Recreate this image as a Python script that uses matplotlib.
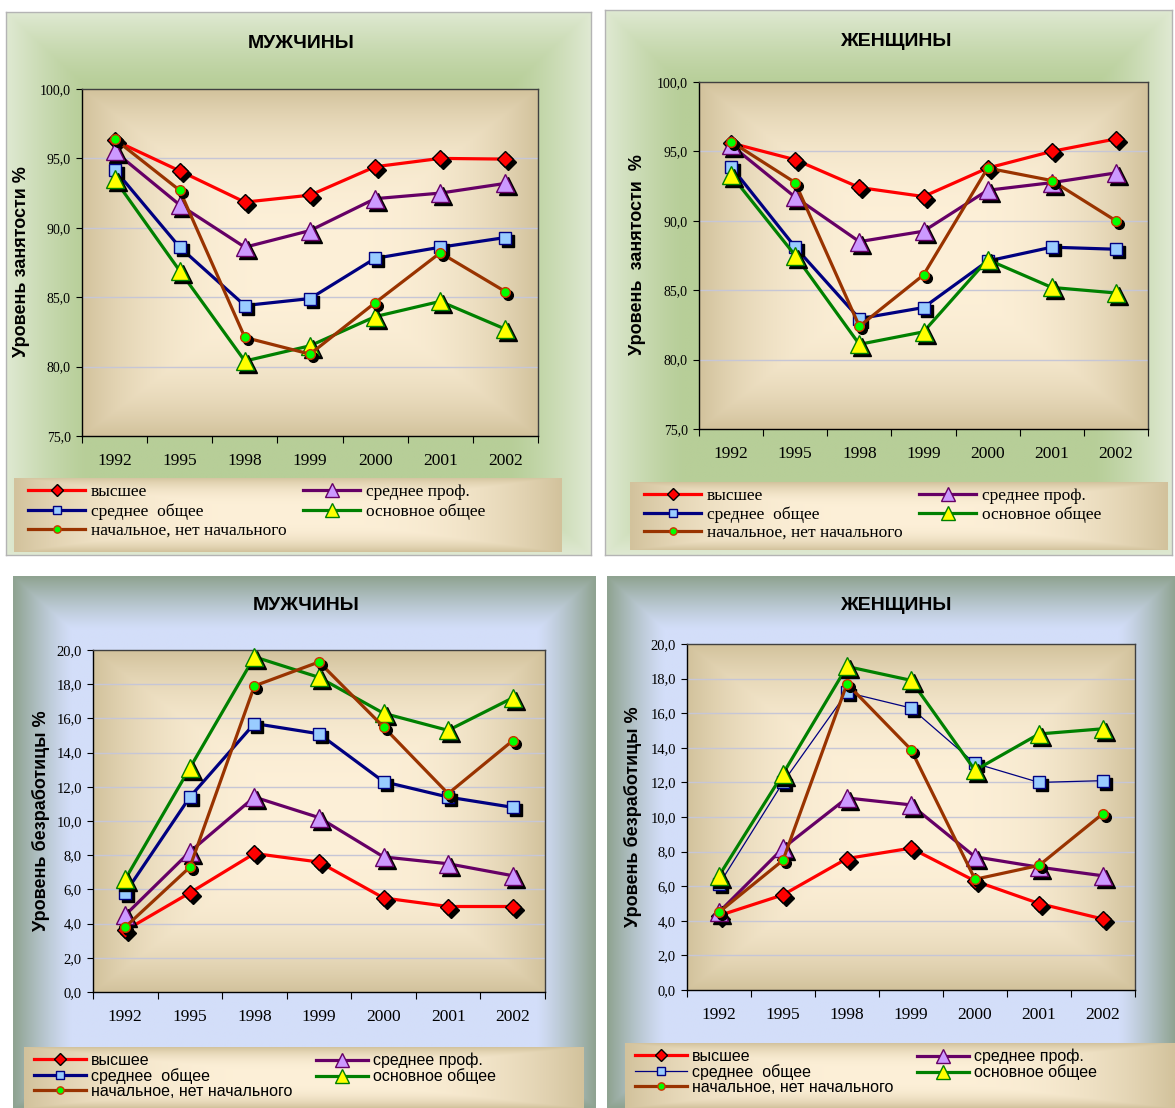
import numpy as np
import matplotlib.pyplot as plt
import matplotlib.colors as mcolors
from matplotlib import transforms
from matplotlib.lines import Line2D
from matplotlib.legend import Legend

W, H = 1175, 1108

years = ['1992', '1995', '1998', '1999', '2000', '2001', '2002']
names = ['высшее', 'среднее проф.', 'среднее  общее', 'основное общее',
         'начальное, нет начального']

# employment, men
m_emp_vys = [96.3, 94.1, 91.85, 92.35, 94.4, 95.0, 94.95]
m_emp_prof = [95.5, 91.65, 88.6, 89.8, 92.1, 92.5, 93.2]
m_emp_sro = [94.2, 88.6, 84.4, 84.9, 87.8, 88.6, 89.3]
m_emp_osn = [93.5, 86.9, 80.4, 81.5, 83.6, 84.7, 82.7]
m_emp_nach = [96.4, 92.7, 82.1, 80.9, 84.6, 88.2, 85.4]

# employment, women
w_emp_vys = [95.6, 94.4, 92.4, 91.75, 93.8, 95.0, 95.9]
w_emp_prof = [95.45, 91.7, 88.5, 89.25, 92.2, 92.75, 93.45]
w_emp_sro = [93.9, 88.1, 82.95, 83.75, 87.1, 88.1, 87.95]
w_emp_osn = [93.3, 87.5, 81.1, 82.0, 87.2, 85.2, 84.8]
w_emp_nach = [95.7, 92.75, 82.4, 86.1, 93.8, 92.9, 90.0]

# unemployment, men
m_un_vys = [3.6, 5.8, 8.1, 7.6, 5.5, 5.0, 5.0]
m_un_prof = [4.5, 8.2, 11.4, 10.2, 7.9, 7.5, 6.8]
m_un_sro = [5.8, 11.4, 15.7, 15.1, 12.3, 11.4, 10.8]
m_un_osn = [6.6, 13.1, 19.6, 18.4, 16.3, 15.3, 17.2]
m_un_nach = [3.8, 7.3, 17.9, 19.3, 15.5, 11.6, 14.7]

# unemployment, women
w_un_vys = [4.3, 5.5, 7.6, 8.2, 6.3, 5.0, 4.1]
w_un_prof = [4.5, 8.2, 11.1, 10.7, 7.7, 7.1, 6.6]
w_un_sro = [6.1, 12.0, 17.2, 16.3, 13.1, 12.0, 12.1]
w_un_osn = [6.6, 12.5, 18.7, 17.9, 12.7, 14.8, 15.1]
w_un_nach = [4.5, 7.5, 17.7, 13.9, 6.4, 7.2, 10.2]

# line colour, marker, size, face, edge
styles = [('#ff0000', 'D', 8.5, '#ff0000', '#000000'),
          ('#660066', '^', 13, '#cc99ff', '#660066'),
          ('#000080', 's', 8, '#99ccff', '#000080'),
          ('#008000', '^', 13, '#ffff00', '#008000'),
          ('#993300', 'o', 7, '#00ff00', '#cc3300')]

SANS = ['Liberation Sans', 'DejaVu Sans']
SERIF = ['Liberation Serif', 'DejaVu Serif', 'serif']


def box(x0, y0, x1, y1):
    return [x0 / W, 1 - y1 / H, (x1 - x0) / W, (y1 - y0) / H]


def gradient(inner, outer, lo, p, n=300):
    u = np.linspace(-1, 1, n)
    X, Y = np.meshgrid(u, u)
    t = np.maximum(np.abs(X), np.abs(Y))
    f = np.clip((t - lo) / (1 - lo), 0, 1) ** p
    c0 = np.array(mcolors.to_rgb(inner))
    c1 = np.array(mcolors.to_rgb(outer))
    return c0 * (1 - f)[..., None] + c1 * f[..., None]


def bg_axes(rect, img, border=None):
    a = fig.add_axes(box(*rect))
    a.imshow(img, extent=[0, 1, 0, 1], aspect='auto', interpolation='bilinear')
    a.set_xlim(0, 1)
    a.set_ylim(0, 1)
    a.set_xticks([])
    a.set_yticks([])
    for s in a.spines.values():
        if border:
            s.set_color(border)
            s.set_linewidth(1)
        else:
            s.set_visible(False)
    return a


cream = gradient('#fdf0d8', '#d2c29c', 0.0, 3.0)


def panel(bg_rect, bg_img, border, ax_rect, leg_rect, title, title_xy,
          ylabel, ylabel_xy, data, ylim, ystep, leg_font, leg_size, thin_blue,
          leg_cols, leg_spacing, ytick_size):
    bg_axes(bg_rect, bg_img, border)

    ax = fig.add_axes(box(*ax_rect))
    ax.imshow(cream, extent=[0, 1, 0, 1], transform=ax.transAxes,
              aspect='auto', zorder=0, interpolation='bilinear')
    ax.set_xlim(-0.5, 6.5)
    ax.set_ylim(*ylim)
    yt = np.arange(ylim[0], ylim[1] + 0.01, ystep)
    ax.set_yticks(yt)
    ax.set_yticklabels([f'{v:.1f}'.replace('.', ',') for v in yt],
                       family=SERIF, fontsize=ytick_size)
    for v in yt[1:-1]:
        ax.axhline(v, color='#c6c6d6', lw=1, zorder=1)
    ax.set_xticks(np.arange(-0.5, 7, 1))
    ax.set_xticklabels([])
    ax.set_xticks(range(7), minor=True)
    ax.set_xticklabels(years, minor=True, family=SERIF, fontsize=12.5)
    ax.tick_params(axis='x', which='major', length=5, direction='out')
    ax.tick_params(axis='x', which='minor', length=0, pad=12)
    ax.tick_params(axis='y', length=4, direction='out', pad=4)
    for s in ax.spines.values():
        s.set_linewidth(1)
    ax.spines['top'].set_color('#404040')
    ax.spines['right'].set_color('#404040')

    shadow = transforms.offset_copy(ax.transData, fig=fig, x=3, y=-3, units='dots')
    x = np.arange(7)
    handles = []
    for i, (vals, st) in enumerate(zip(data, styles)):
        lc, mk, ms, fc, ec = st
        lw = 0.9 if (thin_blue and i == 2) else 2.3
        z = 3 + i * 3
        ax.plot(x, vals, color=lc, lw=lw, zorder=z, solid_joinstyle='round')
        ax.plot(x, vals, ls='none', marker=mk, ms=ms, color='black',
                transform=shadow, zorder=z + 1, clip_on=False)
        ax.plot(x, vals, ls='none', marker=mk, ms=ms, mfc=fc, mec=ec, mew=1,
                zorder=z + 2, clip_on=False)
        handles.append(Line2D([], [], color=lc, lw=lw, marker=mk,
                              ms=ms * 0.75, mfc=fc, mec=ec, mew=1))

    fig.text(title_xy[0] / W, 1 - title_xy[1] / H, title, ha='center',
             va='center', fontsize=14, fontweight='bold', family=SANS)
    fig.text(ylabel_xy[0] / W, 1 - ylabel_xy[1] / H, ylabel, ha='center',
             va='center', rotation=90, fontsize=13, fontweight='bold',
             family=SANS)

    lax = bg_axes(leg_rect, cream)
    lw_px = leg_rect[2] - leg_rect[0]
    cols = [[0, 2, 4], [1, 3]]
    for ci, idx in enumerate(cols):
        lg = Legend(lax, [handles[k] for k in idx], [names[k] for k in idx],
                    loc='upper left',
                    bbox_to_anchor=(leg_cols[ci] / lw_px, 1.0),
                    frameon=False, handlelength=3.3, handletextpad=0.3,
                    labelspacing=leg_spacing, borderaxespad=0.15,
                    borderpad=0.2,
                    prop={'family': leg_font, 'size': leg_size})
        lax.add_artist(lg)
    return ax


fig = plt.figure(figsize=(W / 100, H / 100), dpi=100)
fig.patch.set_facecolor('white')

green_bg = gradient('#b7ce98', '#dfe9d2', 0.72, 1.3)
blue_bg = gradient('#d3def9', '#8fa391', 0.80, 1.2)

panel((6, 12, 591, 555), green_bg, '#b4b4b4', (82, 89, 538, 436),
      (14, 478, 562, 552), 'МУЖЧИНЫ', (301, 43),
      'Уровень занятости %', (22, 262),
      [m_emp_vys, m_emp_prof, m_emp_sro, m_emp_osn, m_emp_nach],
      (75, 100), 5, SERIF, 12.5, False, (8, 283), 0.18, 10)

panel((605, 10, 1172, 555), green_bg, '#b4b4b4', (699, 82, 1148, 429),
      (630, 482, 1168, 550), 'ЖЕНЩИНЫ', (896, 42),
      'Уровень  занятости  %', (638, 255),
      [w_emp_vys, w_emp_prof, w_emp_sro, w_emp_osn, w_emp_nach],
      (75, 100), 5, SERIF, 12.5, False, (8, 283), 0.12, 10)

panel((13, 576, 596, 1108), blue_bg, None, (93, 650, 545, 992),
      (24, 1047, 584, 1108), 'МУЖЧИНЫ', (306, 605),
      'Уровень безработицы %', (41, 821),
      [m_un_vys, m_un_prof, m_un_sro, m_un_osn, m_un_nach],
      (0, 20), 2, SANS, 11.5, False, (4, 286), 0.02, 10.5)

panel((607, 576, 1175, 1108), blue_bg, None, (687, 644, 1135, 990),
      (625, 1043, 1175, 1108), 'ЖЕНЩИНЫ', (896, 605),
      'Уровень безработицы %', (633, 817),
      [w_un_vys, w_un_prof, w_un_sro, w_un_osn, w_un_nach],
      (0, 20), 2, SANS, 11.5, True, (4, 286), 0.02, 10.5)

fig.savefig('out.png', dpi=100, facecolor='white')
